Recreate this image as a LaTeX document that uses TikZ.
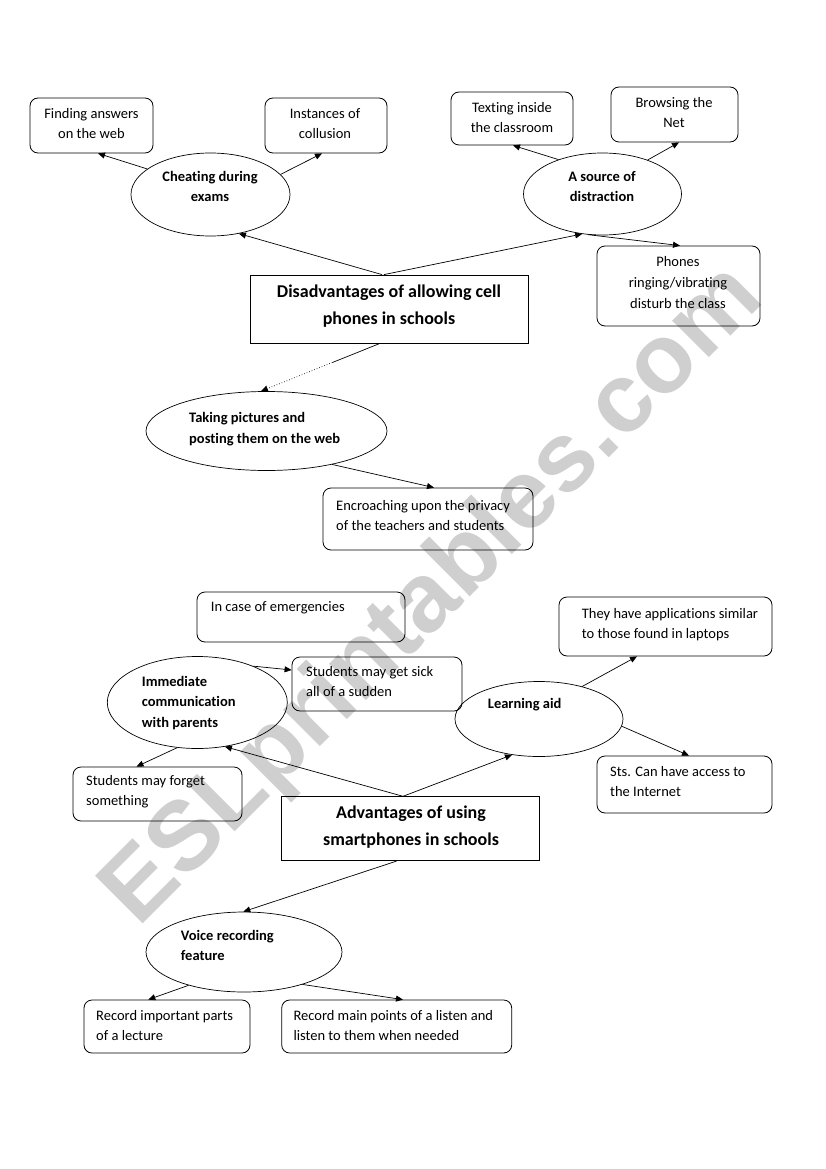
\documentclass[tikz,border=0pt]{standalone}
\usepackage{fontspec}
\setmainfont{Carlito}[Ligatures=NoCommon]
\newfontfamily\wmfont{Liberation Sans}
\usetikzlibrary{arrows.meta,shapes.geometric,calc}
\newcommand\fstrut{\rule{0pt}{12pt}}
\newcommand\hstrut{\rule{0pt}{15pt}}
\tikzset{
 box/.style={draw, rounded corners=8pt, line width=0.8pt, inner sep=0pt},
 mainbox/.style={draw, line width=0.8pt, inner sep=0pt},
 ell/.style={draw, ellipse, line width=0.7pt, inner sep=0pt},
 txt/.style={inner sep=0pt, font=\fontsize{14.5}{20}\selectfont},
 btxt/.style={inner sep=0pt, font=\fontsize{14.5}{20}\selectfont\bfseries},
 htxt/.style={inner sep=0pt, font=\fontsize{18}{27}\selectfont\bfseries, align=center, anchor=north},
 arr/.style={-{Triangle[length=7pt,width=6pt]}, line width=0.7pt},
 plain/.style={line width=0.7pt},
 wmark/.style={rotate=45, text=black!19, inner sep=0pt, font=\wmfont\bfseries\fontsize{98}{98}\selectfont},
}
\begin{document}
\begin{tikzpicture}[x=1pt,y=-1pt]
\useasboundingbox (0,0) rectangle (826,1169);
\fill[white] (0,0) rectangle (826,1169);
% watermark
\node[wmark] (wm) at (434,597) {ESLprintables.com};

% --- Disadvantages part ---
\node[box, minimum width=123pt, minimum height=55pt] (find) at (91.5,125.5) {};
\node[txt, align=center, anchor=north] (find-t) at (91.5,106) {\fstrut Finding answers\\on the web};
\node[box, minimum width=122pt, minimum height=55pt] (coll) at (326,125.5) {};
\node[txt, align=center, anchor=north] (coll-t) at (325,106) {\fstrut Instances of\\collusion};
\node[ell, minimum width=159pt, minimum height=83pt] (cheat) at (210.5,194.5) {};
\node[btxt, align=center, anchor=north] (cheat-t) at (210,169) {\fstrut Cheating during\\exams};

\node[box, minimum width=122pt, minimum height=53pt] (text) at (512,118.5) {};
\node[txt, align=center, anchor=north] (text-t) at (512,100) {\fstrut Texting inside\\the classroom};
\node[box, minimum width=127pt, minimum height=55pt] (brow) at (674.5,114.5) {};
\node[txt, align=center, anchor=north] (brow-t) at (674,95) {\fstrut Browsing the\\Net};
\node[ell, minimum width=158pt, minimum height=82pt] (dist) at (602.5,194) {};
\node[btxt, align=center, anchor=north] (dist-t) at (602,169) {\fstrut A source of\\distraction};
\node[box, minimum width=163pt, minimum height=80pt] (phon) at (678.5,286) {};
\node[txt, align=center, anchor=north, font=\fontsize{14.5}{21}\selectfont] (phon-t) at (678,254) {\fstrut Phones\\ringing/vibrating\\disturb the class};

\node[mainbox, minimum width=278pt, minimum height=68pt] (dis) at (389,309) {};
\node[htxt] (dis-t) at (389,282) {\hstrut Disadvantages of allowing cell\\phones in schools};

\node[ell, minimum width=241pt, minimum height=79pt] (take) at (266.5,431) {};
\node[btxt, align=left, anchor=north west, font=\fontsize{14.5}{21}\selectfont\bfseries] (take-t) at (189,410) {\fstrut Taking pictures and\\posting them on the web};
\node[box, minimum width=210pt, minimum height=62pt] (encr) at (428,519) {};
\node[txt, align=left, anchor=north west] (encr-t) at (336,498) {\fstrut Encroaching upon the privacy\\of the teachers and students};

% --- Advantages part ---
\node[box, minimum width=208pt, minimum height=50pt] (emer) at (301,617) {};
\node[txt, align=left, anchor=north west] (emer-t) at (210.7,599.7) {\fstrut In case of emergencies};
\node[ell, minimum width=180pt, minimum height=92pt] (imm) at (197.3,702.5) {};
\node[btxt, align=left, anchor=north west, font=\fontsize{14.5}{20.5}\selectfont\bfseries] (imm-t) at (141.7,674) {\fstrut Immediate\\communication\\with parents};
\node[box, minimum width=170pt, minimum height=54pt] (sick) at (377,684) {};
\node[txt, align=left, anchor=north west] (sick-t) at (306,664.7) {\fstrut Students may get sick\\all of a sudden};
\node[box, minimum width=169pt, minimum height=54pt] (forg) at (157.5,794) {};
\node[txt, align=left, anchor=north west] (forg-t) at (86,773) {\fstrut Students may forget\\something};

\node[mainbox, minimum width=257.6pt, minimum height=64pt] (adv) at (410.5,828.7) {};
\node[htxt] (adv-t) at (411,803) {\hstrut Advantages of using\\smartphones in schools};

\node[ell, minimum width=168pt, minimum height=75pt] (learn) at (539,719) {};
\node[btxt, align=left, anchor=north west] (learn-t) at (487.7,696.3) {\fstrut Learning aid};
\node[box, minimum width=213pt, minimum height=59pt] (apps) at (665.5,626.5) {};
\node[txt, align=left, anchor=north west] (apps-t) at (581.7,606) {\fstrut They have applications similar\\to those found in laptops};
\node[box, minimum width=175pt, minimum height=57pt] (sts) at (684.5,784.5) {};
\node[txt, align=left, anchor=north west] (sts-t) at (610,764) {\fstrut Sts. Can have access to\\the Internet};

\node[ell, minimum width=196pt, minimum height=80pt] (voice) at (244,952) {};
\node[btxt, align=left, anchor=north west] (voice-t) at (180.7,928) {\fstrut Voice recording\\feature};
\node[box, minimum width=166pt, minimum height=53pt] (imp) at (167,1026.5) {};
\node[txt, align=left, anchor=north west] (imp-t) at (96,1008) {\fstrut Record important parts\\of a lecture};
\node[box, minimum width=230pt, minimum height=53pt] (mainp) at (396.7,1026.5) {};
\node[txt, align=left, anchor=north west] (mainp-t) at (293.3,1008) {\fstrut Record main points of a listen and\\listen to them when needed};

% --- connectors ---
\draw[arr] (cheat.158.7) -- ([xshift=6.5pt]find.south);
\draw[arr] (cheat.16.2) -- ([xshift=-4pt]coll.south);
\draw[arr] ([xshift=-7pt]dis.north) -- (cheat.306.5);
\draw[arr] ([xshift=-5pt]dis.north) -- (dist.243.1);
\draw[arr] (dist.142.1) -- ([xshift=1pt]text.south);
\draw[arr] (dist.37.3) -- ([xshift=4.5pt]brow.south);
\draw[arr] (dist.250) -- ([xshift=1.5pt]phon.north);
\coordinate (dm) at ($([xshift=-9pt]dis.south)!0.4!(take.98)$);
\draw[plain] ([xshift=-9pt]dis.south) -- (dm);
\draw[arr, dotted] (dm) -- (take.98);
\draw[arr] (take.333.5) -- ([xshift=6pt]encr.north);

\draw[arr] (imm.33.8) -- ([yshift=14pt]sick.west);
\draw[arr] (imm.246) -- ([xshift=-21pt]forg.north);
\draw[arr] ([xshift=-7.5pt]adv.north) -- (imm.302.7);
\draw[arr] ([xshift=-7.5pt]adv.north) -- (learn.233.5);
\draw[arr] (learn.37.7) -- ([xshift=-28.5pt]apps.south);
\draw[arr] (learn.355.9) -- ([xshift=4.5pt]sts.north);
\draw[arr] ([xshift=-14pt]adv.south) -- (voice.91.8);
\draw[arr] (voice.211.4) -- ([xshift=-18.7pt]imp.north);
\draw[arr] (voice.331.5) -- ([xshift=6.3pt]mainp.north);
\end{tikzpicture}
\end{document}
